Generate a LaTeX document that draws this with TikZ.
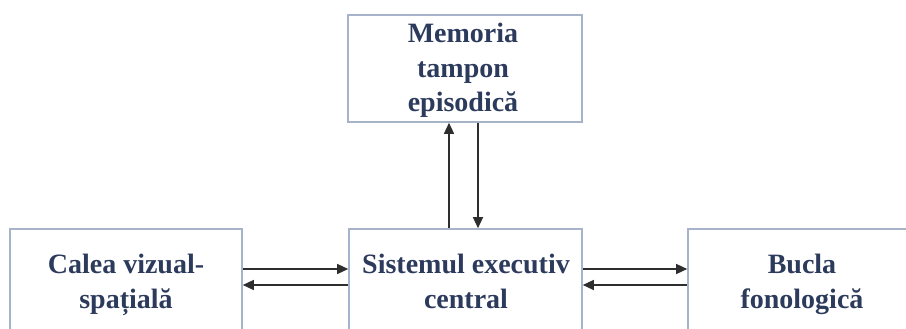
\documentclass[tikz,border=0pt]{standalone}
\usepackage{fontspec}
\setmainfont{Liberation Serif}
\usetikzlibrary{arrows.meta}
\definecolor{boxline}{HTML}{A7B3C9}
\definecolor{labeltext}{HTML}{2C3A5C}
\definecolor{arrowline}{HTML}{2E2E2E}
\begin{document}
\begin{tikzpicture}[x=1pt,y=-1pt,
  block/.style={draw=boxline,line width=1.6pt,rectangle,inner sep=0pt},
  caption/.style={font=\fontsize{28}{35}\selectfont\bfseries,text=labeltext,
    align=center,inner sep=0pt,anchor=base},
  link/.style={draw=arrowline,line width=1.4pt,
    -{Triangle[length=11pt,width=10pt]}}]
\useasboundingbox (0,0) rectangle (906,329);
% blocks
\node[block,minimum width=234pt,minimum height=107pt] (mem) at (465,68.5) {};
\node[block,minimum width=232pt,minimum height=131pt] (vis) at (126,294.5) {};
\node[block,minimum width=233pt,minimum height=131pt] (cen) at (465.5,294.5) {};
\node[block,minimum width=232pt,minimum height=131pt] (fon) at (804,294.5) {};
% labels, placed by the baseline of their last line
\node[caption] (memt) at (463,112) {Memoria\\tampon\\episodică};
\node[caption] (vist) at (126,308) {Calea vizual-\\spațială};
\node[caption] (cent) at (466,308) {Sistemul executiv\\central};
\node[caption] (font) at (802,308) {Bucla\\fonologică};
% connector guides
\coordinate (up) at (449,0);
\coordinate (down) at (478,0);
\coordinate (fwd) at (0,269);
\coordinate (back) at (0,285);
% connectors
\draw[link] (up |- cen.north) -- (up |- mem.south);
\draw[link] (down |- mem.south) -- (down |- cen.north);
\draw[link] (vis.east |- fwd) -- (cen.west |- fwd);
\draw[link] (cen.west |- back) -- (vis.east |- back);
\draw[link] (cen.east |- fwd) -- (fon.west |- fwd);
\draw[link] (fon.west |- back) -- (cen.east |- back);
\end{tikzpicture}
\end{document}
